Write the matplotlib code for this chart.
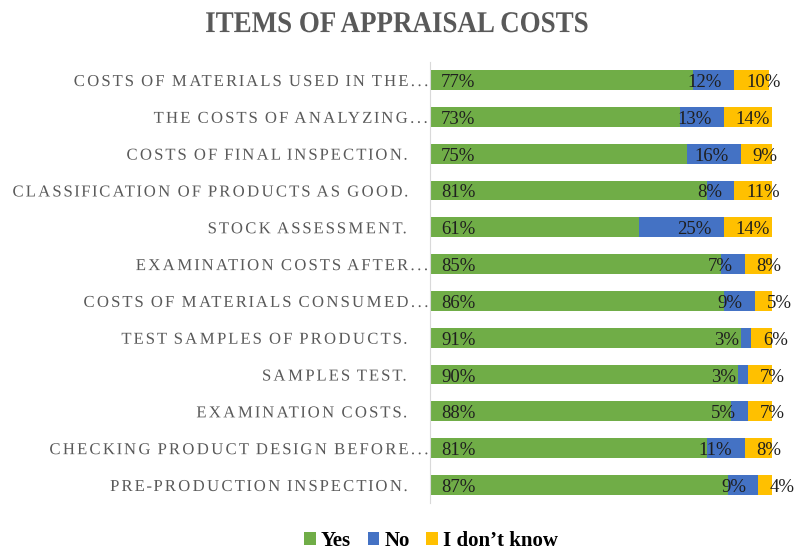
import matplotlib.pyplot as plt
import numpy as np
from matplotlib.patheffects import AbstractPathEffect
from matplotlib.path import Path
from matplotlib.transforms import IdentityTransform, ScaledTranslation

categories = [
    "COSTS OF MATERIALS USED IN THE\u2026",
    "THE COSTS OF ANALYZING\u2026",
    "COSTS OF FINAL INSPECTION.",
    "CLASSIFICATION OF PRODUCTS AS GOOD.",
    "STOCK ASSESSMENT.",
    "EXAMINATION COSTS AFTER\u2026",
    "COSTS OF MATERIALS CONSUMED\u2026",
    "TEST SAMPLES OF PRODUCTS.",
    "SAMPLES TEST.",
    "EXAMINATION COSTS.",
    "CHECKING PRODUCT DESIGN BEFORE\u2026",
    "PRE-PRODUCTION INSPECTION.",
]
yes = [77, 73, 75, 81, 61, 85, 86, 91, 90, 88, 81, 87]
no = [12, 13, 16, 8, 25, 7, 9, 3, 3, 5, 11, 9]
dont_know = [10, 14, 9, 11, 14, 8, 5, 6, 7, 7, 8, 4]

series_names = ["Yes", "No", "I don\u2019t know"]
colors = ["#70AD47", "#4472C4", "#FFC000"]


class GlyphSpread(AbstractPathEffect):
    """Spread glyph outlines apart (spread > 1) or squeeze the whole
    string horizontally (squeeze < 1) around an anchor edge."""

    def __init__(self, spread=1.0, squeeze=1.0, anchor="right"):
        super().__init__()
        self.spread = spread
        self.squeeze = squeeze
        self.anchor = anchor

    def draw_path(self, renderer, gc, tpath, affine, rgbFace=None):
        verts = affine.transform(tpath.vertices).copy()
        codes = tpath.codes
        if codes is None:
            codes = np.full(len(verts), Path.LINETO, dtype=Path.code_type)
            codes[0] = Path.MOVETO
        real = codes != Path.CLOSEPOLY
        xs = verts[real, 0]
        if self.anchor == "right":
            x0 = xs.max()
        elif self.anchor == "left":
            x0 = xs.min()
        else:
            x0 = 0.5 * (xs.min() + xs.max())
        starts = list(np.where(codes == Path.MOVETO)[0]) + [len(verts)]
        for a, b in zip(starts[:-1], starts[1:]):
            seg = slice(a, b)
            m = real[seg]
            cx = 0.5 * (verts[seg][m, 0].min() + verts[seg][m, 0].max())
            verts[seg, 0] += (self.spread - 1.0) * (cx - x0)
        verts[:, 0] = x0 + (verts[:, 0] - x0) * self.squeeze
        renderer.draw_path(gc, Path(verts, codes), IdentityTransform(), rgbFace)


plt.rcParams['font.family'] = ['Liberation Serif', 'DejaVu Serif']

fig = plt.figure(figsize=(7.94, 5.53), dpi=100)
ax = fig.add_axes([0.5416, 0.0897, 0.4307, 0.7989])

y = np.arange(len(categories))
yes_a = np.array(yes)
no_a = np.array(no)
dk_a = np.array(dont_know)

h = 0.54
ax.barh(y, yes_a, height=h, color=colors[0], label=series_names[0])
ax.barh(y, no_a, left=yes_a, height=h, color=colors[1], label=series_names[1])
ax.barh(y, dk_a, left=yes_a + no_a, height=h, color=colors[2], label=series_names[2])

lbl = dict(fontsize=13.5, color="#1F1F1F", va="baseline")
dy = 0.19
for i in range(len(categories)):
    ax.text(3.2, y[i] + dy, f"{yes[i]}%", ha="left", **lbl)
    ax.text(yes[i] + no[i] - 3.6, y[i] + dy, f"{no[i]}%", ha="right", **lbl)
    ax.text(yes[i] + no[i] + 3.4, y[i] + dy, f"{dont_know[i]}%", ha="left",
            clip_on=False, **lbl)

ax.set_xlim(0, 100)
ax.set_ylim(len(categories) - 0.5, -0.5)
ax.set_yticks(y)
ax.set_yticklabels(categories, fontsize=12, color="#595959")
ax.tick_params(axis="y", length=0, pad=17)
for t in ax.get_yticklabels():
    t.set_path_effects([GlyphSpread(spread=1.2, anchor="right")])
    if t.get_text().endswith("\u2026"):
        t.set_transform(t.get_transform() + ScaledTranslation(0.21, 0, fig.dpi_scale_trans))
ax.set_xticks([])
for s in ["top", "right", "bottom"]:
    ax.spines[s].set_visible(False)
ax.spines["left"].set_color("#D9D9D9")

title = fig.text(0.5, 0.942, "ITEMS OF APPRAISAL COSTS", ha="center", va="baseline",
                 fontsize=21.7, fontweight="bold", color="#595959")
title.set_path_effects([GlyphSpread(squeeze=0.895, anchor="center")])

fig.legend(loc="center", bbox_to_anchor=(0.543, 0.022), ncol=3, frameon=False,
           prop=dict(weight="bold", size=15), handlelength=0.55, handleheight=0.55,
           handletextpad=0.25, columnspacing=0.8)

fig.savefig("out.png", dpi=100)
